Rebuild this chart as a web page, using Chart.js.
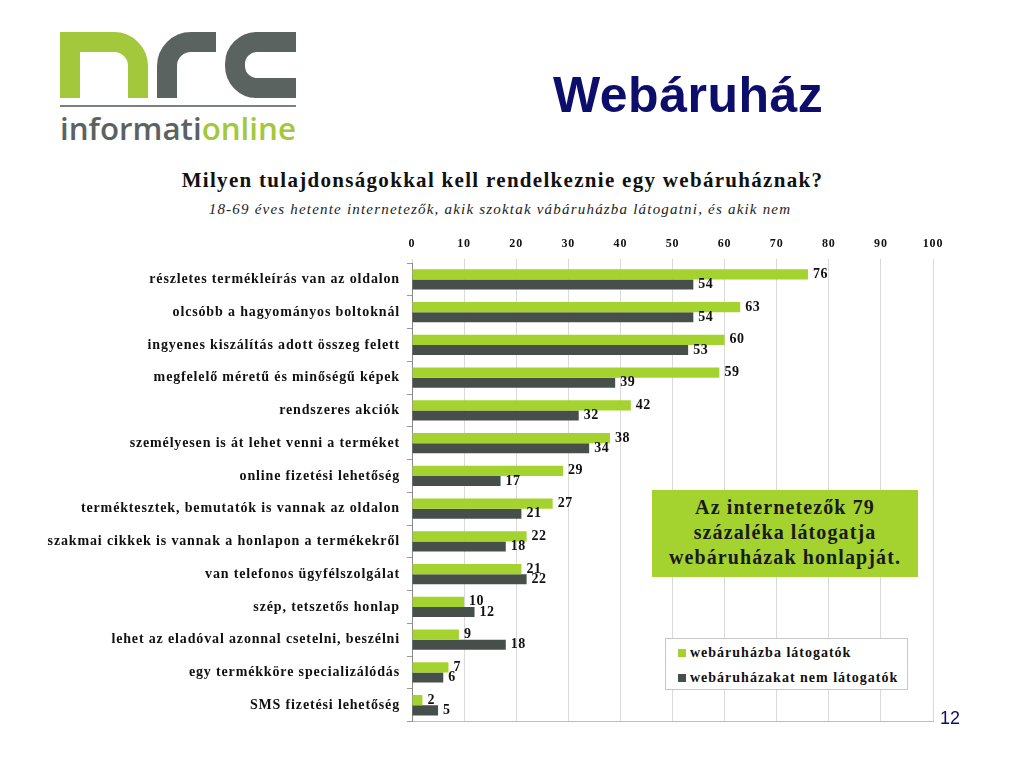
<!DOCTYPE html>
<html>
<head>
<meta charset="utf-8">
<script src="https://cdn.jsdelivr.net/npm/chart.js@4"></script>
<style>
  body { margin: 0; background: #fff; }
  #page { position: relative; width: 1024px; height: 768px; overflow: hidden; font-family: "Liberation Serif", serif; }
  #logo { position: absolute; left: 0; top: 0; }
  #head { position: absolute; left: 553px; top: 66px; font: bold 50px "Liberation Sans", Arial, sans-serif; color: #0d0d6b; letter-spacing: 0.5px; }
  #title { position: absolute; left: 0; width: 1005px; top: 168px; text-align: center; font-weight: bold; font-size: 21px; letter-spacing: 1.3px; color: #111; }
  #subtitle { position: absolute; left: 0; width: 1000px; top: 201px; text-align: center; font-style: italic; font-size: 15px; letter-spacing: 1.2px; color: #222; }
  #chart-wrap { position: absolute; left: 0; top: 230px; width: 950px; height: 507px; }
  #note { position: absolute; left: 652px; top: 490px; width: 266px; height: 87px; background: #a4d22e; color: #1a1a1a; font-weight: bold; font-size: 20px; letter-spacing: 1.1px; line-height: 25px; text-align: center; box-sizing: border-box; padding-top: 5px; white-space: nowrap; }
  #legend { position: absolute; left: 665px; top: 638px; width: 243px; height: 52px; background: #fff; border: 1px solid #c8c8c8; box-sizing: border-box; padding: 1px 0 0 12px; font-weight: bold; font-size: 14px; letter-spacing: 1px; color: #111; white-space: nowrap; }
  #legend div { height: 25px; line-height: 25px; }
  #legend span.sw { display: inline-block; width: 8px; height: 8px; margin-right: 4px; }
  #pagenum { position: absolute; left: 940px; top: 708px; font: 18px "Liberation Sans", Arial, sans-serif; color: #0d0d6b; }
</style>
</head>
<body>
<div id="page">
  <svg id="logo" width="320" height="150">
    <path d="M70 98 V42 H114 A24 24 0 0 1 138 66 V98" fill="none" stroke="#a3c83b" stroke-width="20"/>
    <path d="M167 98 V66 A24 24 0 0 1 191 42 H216" fill="none" stroke="#5b6361" stroke-width="20"/>
    <path d="M296 42 H257 A22 22 0 0 0 235 64 V66 A22 22 0 0 0 257 88 H296" fill="none" stroke="#5b6361" stroke-width="20"/>
    <line x1="60" y1="106" x2="296" y2="106" stroke="#7a807e" stroke-width="2"/>
    <text x="60" y="140" font-family="Open Sans, sans-serif" font-weight="600" font-size="31" textLength="236" lengthAdjust="spacingAndGlyphs"><tspan fill="#5b6361">informati</tspan><tspan fill="#a3c83b">online</tspan></text>
  </svg>
  <div id="head">Webáruház</div>
  <div id="title">Milyen tulajdonságokkal kell rendelkeznie egy webáruháznak?</div>
  <div id="subtitle">18-69 éves hetente internetezők, akik szoktak vábáruházba látogatni, és akik nem</div>
  <div id="chart-wrap"><canvas id="chart"></canvas></div>
  <div id="note">Az internetezők 79<br>százaléka látogatja<br>webáruházak honlapját.</div>
  <div id="legend"></div>
  <div id="pagenum">12</div>
</div>
<script>
const categories = [
  "részletes termékleírás van az oldalon",
  "olcsóbb a hagyományos boltoknál",
  "ingyenes kiszálítás adott összeg felett",
  "megfelelő méretű és minőségű képek",
  "rendszeres akciók",
  "személyesen is át lehet venni a terméket",
  "online fizetési lehetőség",
  "terméktesztek, bemutatók is vannak az oldalon",
  "szakmai cikkek is vannak a honlapon a termékekről",
  "van telefonos ügyfélszolgálat",
  "szép, tetszetős honlap",
  "lehet az eladóval azonnal csetelni, beszélni",
  "egy termékköre specializálódás",
  "SMS fizetési lehetőség"
];
const visitors = [76, 63, 60, 59, 42, 38, 29, 27, 22, 21, 10, 9, 7, 2];
const nonVisitors = [54, 54, 53, 39, 32, 34, 17, 21, 18, 22, 12, 18, 6, 5];
const seriesNames = ["webáruházba látogatók", "webáruházakat nem látogatók"];
const seriesColors = ["#a4d22e", "#474f4a"];

const serif = "'Liberation Serif', serif";

// value labels at the end of each bar
const valueLabels = {
  id: "valueLabels",
  afterDatasetsDraw(chart) {
    const ctx = chart.ctx;
    ctx.save();
    ctx.letterSpacing = "0.5px";
    ctx.font = "bold 14px " + serif;
    ctx.fillStyle = "#111";
    ctx.textAlign = "left";
    ctx.textBaseline = "middle";
    chart.data.datasets.forEach((ds, i) => {
      chart.getDatasetMeta(i).data.forEach((bar, j) => {
        ctx.fillText(ds.data[j], bar.x + 5, bar.y);
      });
    });
    ctx.restore();
  }
};

// wider spacing for the axis labels (closer to the Garamond look)
const spacing = {
  id: "spacing",
  beforeDraw(chart) { chart.ctx.letterSpacing = "0.85px"; }
};

new Chart(document.getElementById("chart"), {
  type: "bar",
  data: {
    labels: categories,
    datasets: [
      { label: seriesNames[0], data: visitors, backgroundColor: seriesColors[0] },
      { label: seriesNames[1], data: nonVisitors, backgroundColor: seriesColors[1] }
    ]
  },
  options: {
    indexAxis: "y",
    responsive: true,
    maintainAspectRatio: false,
    animation: false,
    categoryPercentage: 0.62,
    barPercentage: 1,
    layout: { padding: { top: 0, right: 15, bottom: 7, left: 0 } },
    plugins: { legend: { display: false }, tooltip: { enabled: false } },
    scales: {
      x: {
        position: "top",
        min: 0,
        max: 100,
        ticks: { stepSize: 10, color: "#111", font: { family: serif, size: 12, weight: "bold" }, padding: 8 },
        grid: { color: "#d9d9d9", tickLength: 4 },
        border: { display: false },
        afterFit(scale) { scale.height = 33; }
      },
      x2: {
        position: "bottom",
        min: 0,
        max: 100,
        ticks: { display: false },
        grid: { display: false },
        border: { color: "#bdbdbd" }
      },
      y: {
        ticks: { color: "#111", font: { family: serif, size: 14, weight: "bold" }, padding: 7 },
        grid: { drawOnChartArea: false, color: "#9a9a9a", tickLength: 5 },
        border: { color: "#8a8a8a" },
        afterFit(scale) { scale.width = 412; }
      }
    }
  },
  plugins: [valueLabels, spacing]
});

const legend = document.getElementById("legend");
seriesNames.forEach((name, i) => {
  const row = document.createElement("div");
  row.innerHTML = `<span class="sw" style="background:${seriesColors[i]}"></span>${name}`;
  legend.appendChild(row);
});
</script>
</body>
</html>
